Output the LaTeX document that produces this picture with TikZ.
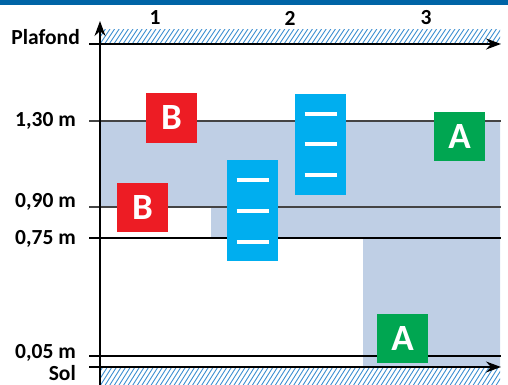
\documentclass[tikz,border=0pt]{standalone}
\usepackage{fontspec}
\setmainfont{Carlito}
\usetikzlibrary{arrows.meta}
\definecolor{topbar}{HTML}{0064A6}
\definecolor{zoneblue}{HTML}{BFCFE5}
\definecolor{redbox}{HTML}{ED1C24}
\definecolor{cyanbox}{HTML}{00AEEF}
\definecolor{greenbox}{HTML}{00A651}
\definecolor{hatchblue}{HTML}{3D8FD1}
\definecolor{lvlgray}{HTML}{444444}
\tikzset{
  lbl/.style={font=\fontsize{21.5}{21.5}\bfseries\selectfont, anchor=east, inner sep=0pt},
  colnum/.style={font=\fontsize{21.5}{21.5}\bfseries\selectfont, inner sep=0pt},
  letterbox/.style={minimum width=51pt, minimum height=49pt, inner sep=0pt, text=white,
    font=\fontsize{37}{37}\bfseries\selectfont},
  bluebox/.style={fill=cyanbox, minimum width=51pt, minimum height=101pt, inner sep=0pt},
  dashw/.style={white, line width=4pt},
  level/.style={line width=1.4pt},
  axis/.style={line width=1.3pt, -{Stealth[length=15pt,width=11pt]}},
  hatch/.style={hatchblue, line width=0.9pt}
}
\begin{document}
\begin{tikzpicture}[x=1pt,y=-1pt]
\useasboundingbox (0,0) rectangle (508,385);
% top bar
\fill[topbar] (0,0) rectangle (508,5);
% shaded zone
\fill[zoneblue] (100,121) -- (500,121) -- (500,367) -- (363,367) -- (363,238)
  -- (211,238) -- (211,207) -- (100,207) -- cycle;
% hatching
\begin{scope}
  \clip (100,30) rectangle (500,43.5);
  \foreach \i in {-3,...,90} \draw[hatch] (100+\i*4.6,44) -- ++(10,-15);
\end{scope}
\begin{scope}
  \clip (100,368) rectangle (500,385);
  \foreach \i in {-4,...,90} \draw[hatch] (100+\i*4.6,386) -- ++(12,-19);
\end{scope}
% coordinates
\coordinate (pl0) at (89,44); \coordinate (pl1) at (501,44);
\coordinate (so0) at (89,367); \coordinate (so1) at (501,367);
\coordinate (va0) at (100,385); \coordinate (va1) at (100,21);
\coordinate (l130a) at (89,121); \coordinate (l130b) at (501,121);
\coordinate (l090a) at (89,207); \coordinate (l090b) at (501,207);
\coordinate (l075a) at (89,238); \coordinate (l075b) at (501,238);
\coordinate (l005a) at (89,356); \coordinate (l005b) at (501,356);
% level lines
\draw[level, lvlgray] (l130a) -- (l130b);
\draw[level, lvlgray] (l090a) -- (l090b);
\draw[level] (l075a) -- (l075b);
\draw[level] (l005a) -- (l005b);
% axes
\draw[axis] (pl0) -- (pl1);
\draw[axis] (so0) -- (so1);
\draw[axis] (va0) -- (va1);
% labels
\node[lbl] (plafond) at (80,37) {Plafond};
\node[lbl] (t130) at (76,121) {1,30 m};
\node[lbl] (t090) at (76,202) {0,90 m};
\node[lbl] (t075) at (76,239) {0,75 m};
\node[lbl] (t005) at (76,353) {0,05 m};
\node[lbl] (tsol) at (76,373.5) {Sol};
\node[colnum] (c1) at (155,18) {1};
\node[colnum] (c2) at (290,18) {2};
\node[colnum] (c3) at (426,18) {3};
% boxes
\node[letterbox, fill=redbox] (b1) at (171.5,118) {B};
\node[letterbox, fill=redbox] (b2) at (142.5,207.5) {B};
\node[letterbox, fill=greenbox] (a1) at (459.5,136.5) {A};
\node[letterbox, fill=greenbox] (a2) at (402.5,338.5) {A};
\node[bluebox] (e1) at (252.5,210.5) {};
\node[bluebox] (e2) at (320.5,144.5) {};
\foreach \dy in {-30.5,0.5,31.5} \draw[dashw] ([xshift=-16pt,yshift=-\dy pt]e1.center) -- ([xshift=16pt,yshift=-\dy pt]e1.center);
\foreach \dy in {-30.5,-0.5,30.5} \draw[dashw] ([xshift=-16pt,yshift=-\dy pt]e2.center) -- ([xshift=16pt,yshift=-\dy pt]e2.center);
\end{tikzpicture}
\end{document}
